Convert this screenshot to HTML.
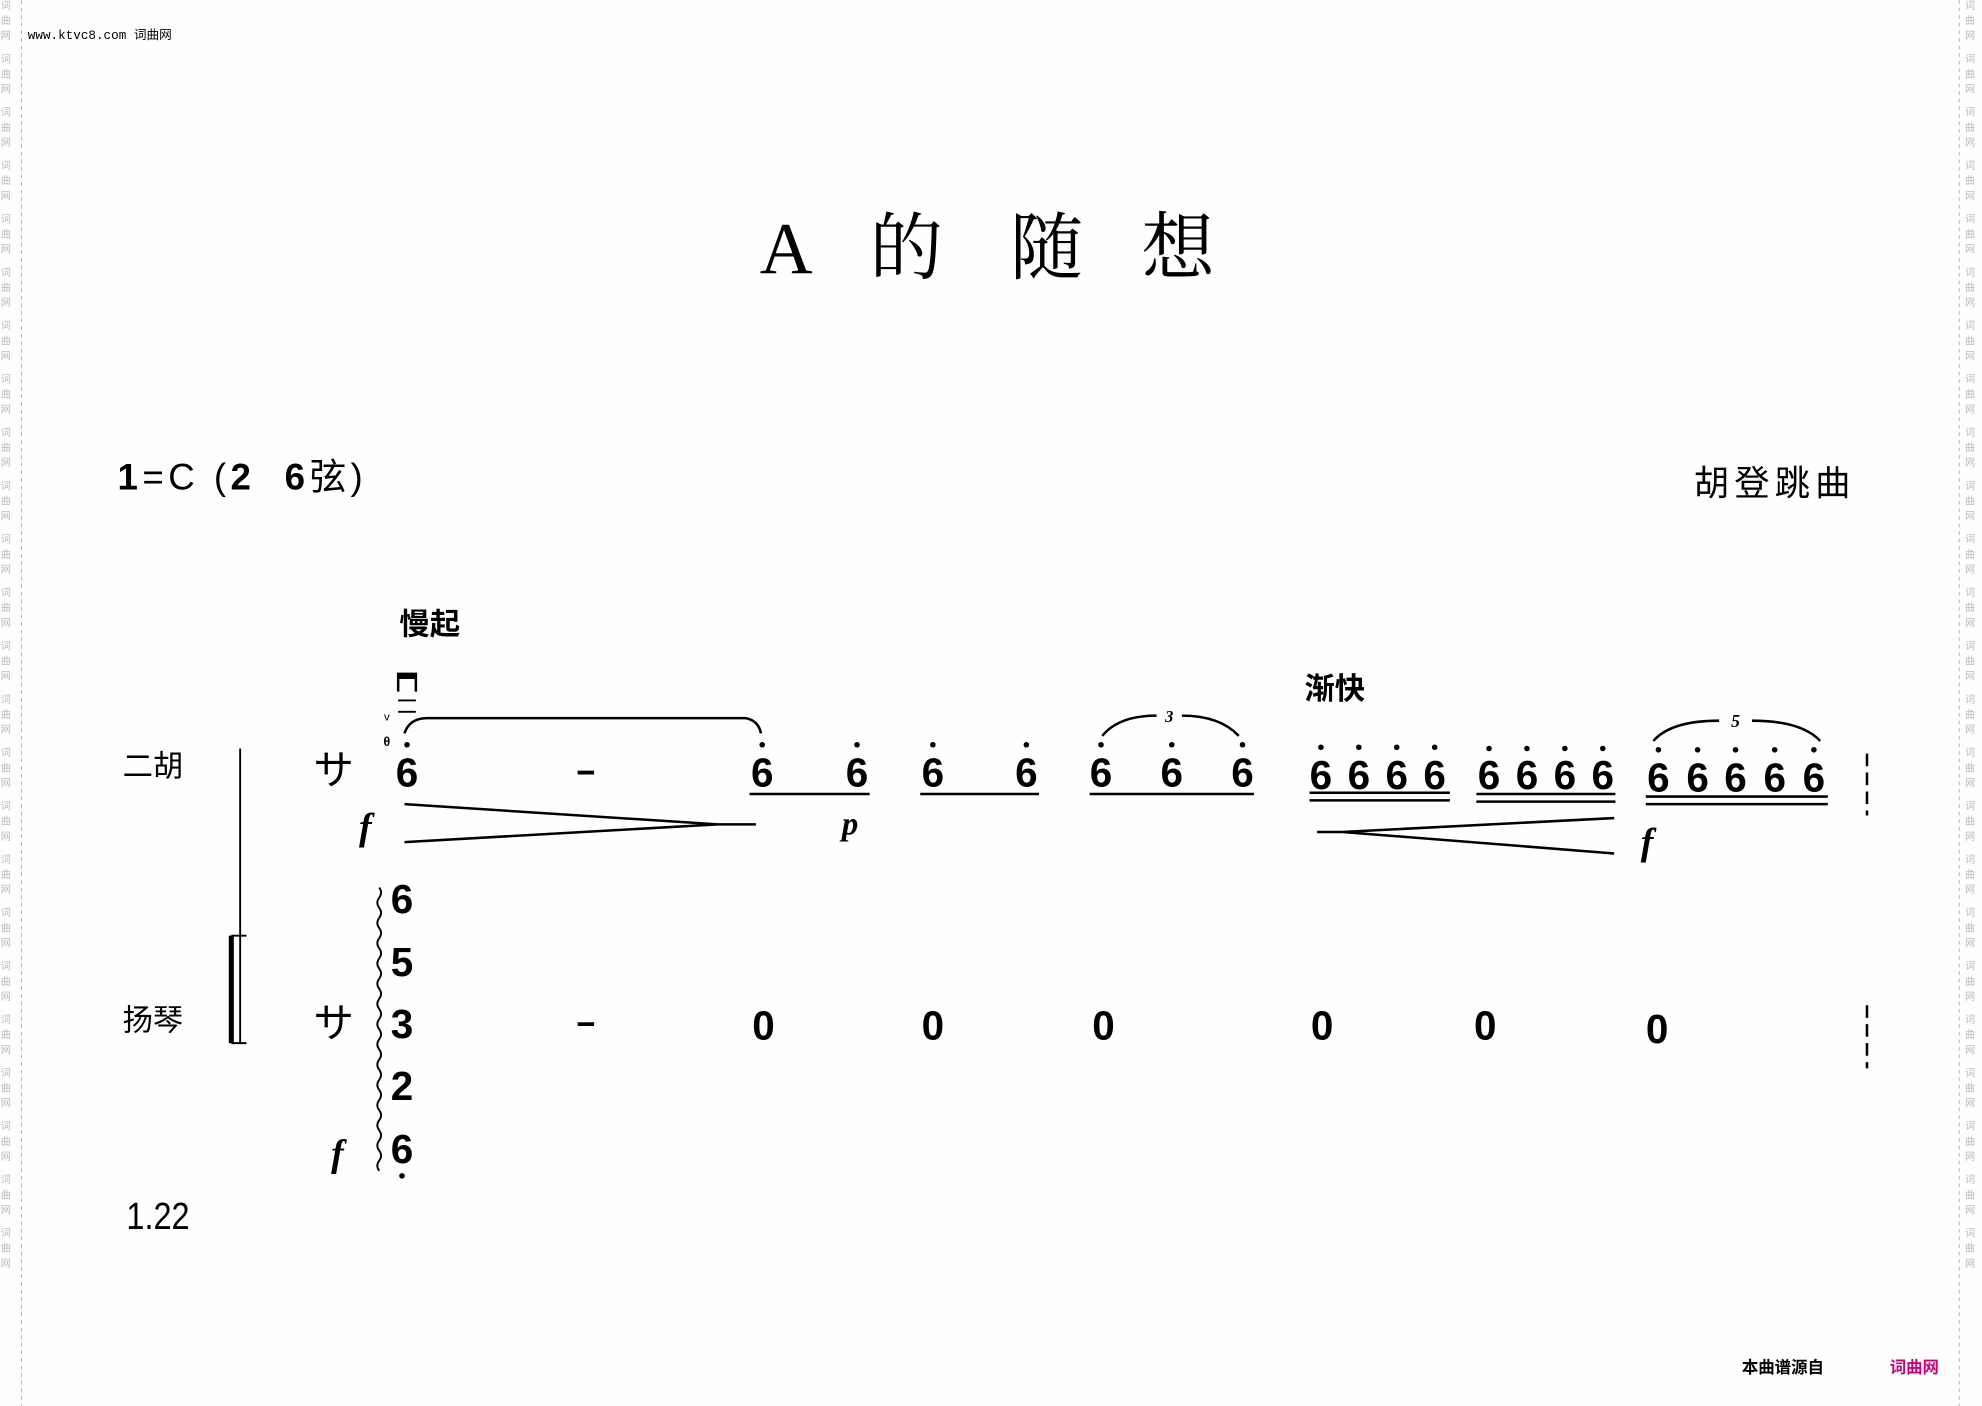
<!DOCTYPE html>
<html><head><meta charset="utf-8"><style>
html,body{margin:0;padding:0;background:#fff}
svg{display:block}
.s{font-family:"Liberation Sans","Noto Sans CJK SC",sans-serif}
.n{font-family:"Liberation Sans",sans-serif;font-weight:bold;font-size:32px}
.d{font-family:"Liberation Serif",serif;font-style:italic;font-weight:bold}
</style></head><body>
<svg width="1982" height="1406" viewBox="0 0 1568 1112" preserveAspectRatio="none" xmlns="http://www.w3.org/2000/svg">
<rect width="1568" height="1112" fill="#fefefe"/>
<line x1="17" y1="0" x2="17" y2="1112" stroke="#bbb" stroke-width="0.8" stroke-dasharray="3,3"/>
<line x1="1550" y1="0" x2="1550" y2="1112" stroke="#bbb" stroke-width="0.8" stroke-dasharray="3,3"/>
<text x="3" y="0" class="s" font-size="8" fill="#bbb" writing-mode="tb" letter-spacing="4">词曲网 词曲网 词曲网 词曲网 词曲网 词曲网 词曲网 词曲网 词曲网 词曲网 词曲网 词曲网 词曲网 词曲网 词曲网 词曲网 词曲网 词曲网 词曲网 词曲网 词曲网 词曲网 词曲网 词曲网</text>
<text x="1557" y="0" class="s" font-size="8" fill="#bbb" writing-mode="tb" letter-spacing="4">词曲网 词曲网 词曲网 词曲网 词曲网 词曲网 词曲网 词曲网 词曲网 词曲网 词曲网 词曲网 词曲网 词曲网 词曲网 词曲网 词曲网 词曲网 词曲网 词曲网 词曲网 词曲网 词曲网 词曲网</text>
<text x="22" y="31" font-family="Liberation Mono,Noto Sans CJK SC,monospace" font-size="10">www.ktvc8.com 词曲网</text>

<g font-family="Liberation Serif,Noto Serif CJK SC,serif" font-size="58" text-anchor="middle">
<text x="622" y="216">A</text><text x="717" y="216">的</text><text x="828" y="216">随</text><text x="932" y="216">想</text>
</g>

<text x="93" y="387" class="s" font-size="29" textLength="194" lengthAdjust="spacing" xml:space="preserve"><tspan font-weight="bold">1</tspan>=C (<tspan font-weight="bold">2</tspan>  <tspan font-weight="bold">6</tspan>弦)</text>
<text x="1340" y="392" class="s" font-size="28" letter-spacing="4">胡登跳曲</text>
<text x="316" y="502" class="s" font-size="24" font-weight="bold">慢起</text>
<text x="1032" y="553" class="s" font-size="24" font-weight="bold">渐快</text>
<text x="97" y="614" class="s" font-size="24">二胡</text>
<text x="97" y="815" class="s" font-size="24">扬琴</text>
<line x1="190" y1="592" x2="190" y2="825" stroke="#000" stroke-width="1.5"/>
<path d="M183 740 V825" stroke="#000" stroke-width="4" fill="none"/>
<path d="M183 740 h12 M183 825 h12" stroke="#000" stroke-width="1.5" fill="none"/>
<text x="248" y="620" class="s" font-size="32">サ</text>
<text x="248" y="820" class="s" font-size="32">サ</text>

<g class="n" text-anchor="middle">
<text x="322" y="622">6</text><text x="603" y="622">6</text><text x="678" y="622">6</text>
<text x="738" y="622">6</text><text x="812" y="622">6</text>
<text x="871" y="622">6</text><text x="927" y="622">6</text><text x="983" y="622">6</text>
<text x="1045" y="624">6</text><text x="1075" y="624">6</text><text x="1105" y="624">6</text><text x="1135" y="624">6</text>
<text x="1178" y="624">6</text><text x="1208" y="624">6</text><text x="1238" y="624">6</text><text x="1268" y="624">6</text>
<text x="1312" y="626">6</text><text x="1343" y="626">6</text><text x="1373" y="626">6</text><text x="1404" y="626">6</text><text x="1435" y="626">6</text>
</g>
<g fill="#000">
<circle cx="322" cy="589" r="2.2"/><circle cx="603" cy="589" r="2.2"/><circle cx="678" cy="589" r="2.2"/>
<circle cx="738" cy="589" r="2.2"/><circle cx="812" cy="589" r="2.2"/>
<circle cx="871" cy="589" r="2.2"/><circle cx="927" cy="589" r="2.2"/><circle cx="983" cy="589" r="2.2"/>
<circle cx="1045" cy="591" r="2.2"/><circle cx="1075" cy="591" r="2.2"/><circle cx="1105" cy="591" r="2.2"/><circle cx="1135" cy="591" r="2.2"/>
<circle cx="1178" cy="592" r="2.2"/><circle cx="1208" cy="592" r="2.2"/><circle cx="1238" cy="592" r="2.2"/><circle cx="1268" cy="592" r="2.2"/>
<circle cx="1312" cy="593" r="2.2"/><circle cx="1343" cy="593" r="2.2"/><circle cx="1373" cy="593" r="2.2"/><circle cx="1404" cy="593" r="2.2"/><circle cx="1435" cy="593" r="2.2"/>
</g>
<g stroke="#000" stroke-width="2" fill="none">
<line x1="457" y1="611" x2="470" y2="611" stroke-width="3"/>
<line x1="593" y1="628" x2="688" y2="628"/>
<line x1="728" y1="628" x2="822" y2="628"/>
<line x1="862" y1="628" x2="992" y2="628"/>
<path d="M1036 627H1147M1036 633H1147"/>
<path d="M1168 628H1278M1168 634H1278"/>
<path d="M1302 630H1446M1302 636H1446"/>
<path d="M320 580 Q324 568 338 568 H590 Q600 570 602 580"/>
<path d="M872 582 Q885 566 915 566 M935 566 Q965 566 980 582"/>
<path d="M1308 586 Q1322 570 1360 570 M1386 570 Q1425 570 1440 586"/>
<path d="M320 636 L568 652 H598 M320 666 L568 652"/>
<path d="M1042 658 H1062 L1277 647 M1062 658 L1277 675"/>
<path d="M1477 596V645" stroke-dasharray="10,5"/>
<path d="M1477 795V845" stroke-dasharray="10,5"/>
</g>
<text x="925" y="571" text-anchor="middle" class="d" font-size="13">3</text>
<text x="1373" y="575" text-anchor="middle" class="d" font-size="14">5</text>
<path d="M315 547V533H329V547" stroke="#000" stroke-width="2" fill="none"/>
<rect x="315" y="533" width="14" height="4" fill="#000"/>
<line x1="315" y1="554" x2="329" y2="554" stroke="#000" stroke-width="1.5"/>
<line x1="315" y1="563" x2="329" y2="563" stroke="#000" stroke-width="1.5"/>
<text x="306" y="570" text-anchor="middle" font-size="9" font-family="Liberation Sans,sans-serif">v</text>
<text x="306" y="590" text-anchor="middle" font-size="10" font-weight="bold" font-family="Liberation Sans,sans-serif">θ</text>
<text x="284" y="664" class="d" font-size="30">f</text>
<text x="666" y="660" class="d" font-size="26">p</text>
<text x="1298" y="676" class="d" font-size="30">f</text>

<path d="M300 702 q3 4 0 8 t0 8 t0 8 t0 8 t0 8 t0 8 t0 8 t0 8 t0 8 t0 8 t0 8 t0 8 t0 8 t0 8 t0 8 t0 8 t0 8 t0 8 t0 8 t0 8 t0 8 t0 8 t0 8 t0 8 t0 8 t0 8 t0 8 t0 8" stroke="#000" stroke-width="1.5" fill="none"/>
<g class="n" text-anchor="middle">
<text x="318" y="722">6</text><text x="318" y="772">5</text><text x="318" y="821">3</text><text x="318" y="870">2</text><text x="318" y="920">6</text>
<text x="604" y="822">0</text><text x="738" y="822">0</text><text x="873" y="822">0</text><text x="1046" y="822">0</text><text x="1175" y="822">0</text><text x="1311" y="825">0</text>
</g>
<circle cx="318" cy="930" r="2.2" fill="#000"/>
<line x1="457" y1="810" x2="470" y2="810" stroke="#000" stroke-width="3"/>
<text x="262" y="922" class="d" font-size="30">f</text>

<text x="100" y="972" font-family="Liberation Sans,sans-serif" font-size="30" textLength="50" lengthAdjust="spacingAndGlyphs">1.22</text>
<text x="1378" y="1086" class="s" font-size="13" font-weight="bold">本曲谱源自</text>
<text x="1495" y="1086" class="s" font-size="13" font-weight="bold" fill="#d0007a">词曲网</text>
</svg>
</body></html>
